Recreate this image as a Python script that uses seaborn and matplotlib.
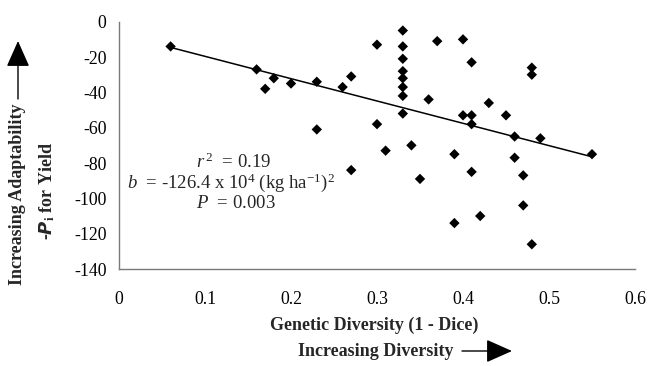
import matplotlib
matplotlib.use("Agg")
import matplotlib.pyplot as plt
from matplotlib.patches import FancyArrowPatch
import seaborn as sns
import pandas as pd
import numpy as np

# --- data ---
diversity = [0.06, 0.16, 0.17, 0.18, 0.20, 0.23, 0.23, 0.26, 0.27, 0.27,
             0.30, 0.30, 0.31,
             0.33, 0.33, 0.33, 0.33, 0.33, 0.33, 0.33, 0.33,
             0.34, 0.35, 0.36, 0.37, 0.39, 0.39, 0.40, 0.40,
             0.41, 0.41, 0.41, 0.41, 0.42, 0.43, 0.45, 0.46, 0.46,
             0.47, 0.47, 0.48, 0.48, 0.48, 0.49, 0.55]
neg_pi = [-14, -27, -38, -32, -35, -34, -61, -37, -31, -84,
          -13, -58, -73,
          -5, -14, -21, -28, -32, -37, -42, -52,
          -70, -89, -44, -11, -75, -114, -10, -53,
          -23, -53, -58, -85, -110, -46, -53, -65, -77,
          -87, -104, -26, -30, -126, -66, -75]
x_ticks = [0, 0.1, 0.2, 0.3, 0.4, 0.5, 0.6]
x_labels = ['0', '0.1', '0.2', '0.3', '0.4', '0.5', '0.6']
y_ticks = [0, -20, -40, -60, -80, -100, -120, -140]

df = pd.DataFrame({'div': diversity, 'pi': neg_pi})

sns.set_theme(style="white")
plt.rcParams['font.family'] = ['Liberation Serif', 'DejaVu Serif']
plt.rcParams['axes.unicode_minus'] = False
plt.rcParams['mathtext.fontset'] = 'custom'
plt.rcParams['mathtext.rm'] = 'Liberation Serif'
plt.rcParams['mathtext.it'] = 'Liberation Serif:italic'
plt.rcParams['mathtext.bf'] = 'Liberation Serif:bold'

fig = plt.figure(figsize=(6.49, 3.66), dpi=100)
ax = fig.add_axes([119/649, 97/366, 516/649, 247.3/366])

sns.regplot(data=df, x='div', y='pi', ci=None, ax=ax, marker='D',
            scatter_kws=dict(color='black', s=28, edgecolor='none', alpha=1),
            line_kws=dict(color='black', lw=1.1))

ax.set_xlim(0, 0.6)
ax.set_ylim(-140, 0)
ax.set_xticks(x_ticks)
ax.set_xticklabels(x_labels)
ax.set_yticks(y_ticks)
ax.set_xlabel('')
ax.set_ylabel('')

sns.despine(ax=ax)
for s in ['left', 'bottom']:
    ax.spines[s].set_color('#7a7a7a')
    ax.spines[s].set_linewidth(1.0)
ax.tick_params(axis='both', which='major', direction='out', length=4,
               width=0.8, color='#7a7a7a', labelsize=12.8, labelcolor='black')
ax.tick_params(axis='x', pad=12)
ax.tick_params(axis='y', pad=5)
ax.grid(False)

# stats annotation
ax.text(234/649, 1 - 162/366, r'$r^{\,2}$  = 0.19', transform=fig.transFigure,
        ha='center', va='center', fontsize=13.5)
ax.text(231/649, 1 - 183/366, r'$b$  = -126.4 x 10$^4$ (kg ha$^{-1}$)$^2$',
        transform=fig.transFigure, ha='center', va='center', fontsize=13.5)
ax.text(236/649, 1 - 204/366, r'$P$  = 0.003', transform=fig.transFigure,
        ha='center', va='center', fontsize=13.5)

# axis titles
fig.text(374/649, 1 - 325/366, 'Genetic Diversity (1 - Dice)', ha='center',
         va='center', fontsize=13, fontweight='bold')
fig.text(376/649, 1 - 351/366, 'Increasing Diversity', ha='center',
         va='center', fontsize=13, fontweight='bold')
fig.text(18/649, 1 - 194/366, 'Increasing Adaptability', rotation=90,
         ha='center', va='center', fontsize=13, fontweight='bold')
fig.text(47/649, 1 - 191/366, r'-$\boldsymbol{P}_\mathbf{i}$ for Yield',
         rotation=90, ha='center', va='center', fontsize=13,
         fontweight='bold')

# direction arrows
head = '-|>,head_length=0.9,head_width=0.4'
fig.add_artist(FancyArrowPatch(
    (462/649, 1 - 351/366), (512/649, 1 - 351/366),
    transform=fig.transFigure, arrowstyle=head, color='black', lw=1.0,
    mutation_scale=18, shrinkA=0, shrinkB=0))
fig.add_artist(FancyArrowPatch(
    (18/649, 1 - 99/366), (18/649, 1 - 41/366),
    transform=fig.transFigure, arrowstyle=head, color='black', lw=1.0,
    mutation_scale=18, shrinkA=0, shrinkB=0))

fig.savefig('out.png', dpi=100)
